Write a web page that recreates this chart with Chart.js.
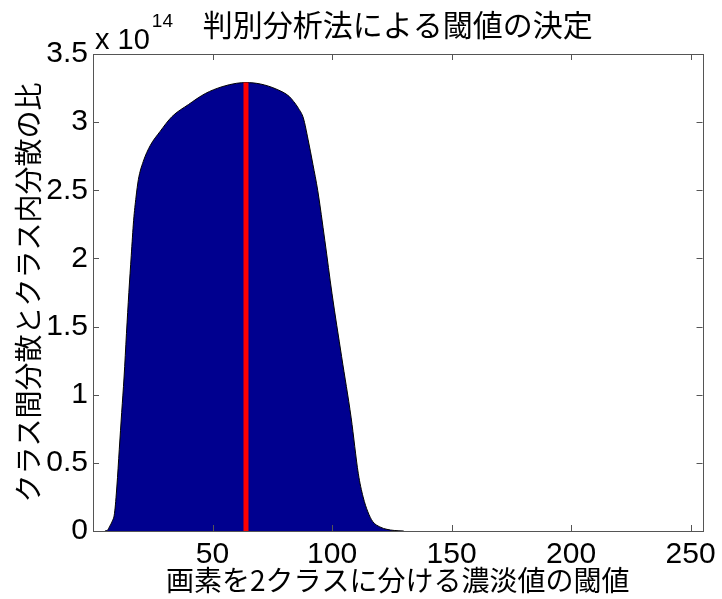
<!DOCTYPE html>
<html>
<head>
<meta charset="utf-8">
<script src="https://cdn.jsdelivr.net/npm/chart.js@4.4.1/dist/chart.umd.min.js"></script>
<style>
  body { margin: 0; background: #fff; }
</style>
</head>
<body>
<canvas id="otsu" width="722" height="599"></canvas>
<script>
    // gray level threshold and the between/within class variance ratio (in units of 10^14)
    const grayLevels = [5, 6, 7, 8, 9, 10, 11, 12, 13, 14, 15, 16, 17, 18, 19, 21, 24, 28, 33, 40, 47, 54, 60, 64,
        70, 77, 82, 84, 86, 88, 90, 92, 94, 97, 100, 104, 108, 111, 113, 115, 117, 120, 123, 126, 130];
    const ratioValues = [0, 0.005, 0.035, 0.07, 0.13, 0.33, 0.6, 0.87, 1.13, 1.45, 1.75, 2.02, 2.28, 2.45, 2.58, 2.71, 2.83, 2.93, 3.04, 3.13, 3.21, 3.26, 3.285, 3.29,
        3.28, 3.24, 3.19, 3.15, 3.10, 3.03, 2.87, 2.69, 2.50, 2.13, 1.74, 1.28, 0.83, 0.42, 0.25, 0.14, 0.07, 0.03, 0.012, 0.004, 0];
    const bestThreshold = [64, 64];
    const bestLine = [0, 3.29];
    const yExponent = '14';
    const xTicks = [50, 100, 150, 200, 250];

    const jpFont = '"Noto Sans CJK JP", "Noto Sans", sans-serif';
    const numFont = '"Liberation Sans Narrow", "Liberation Sans", Arial, sans-serif';

    const matlabAxes = {
        id: 'matlabAxes',
        afterDraw(chart) {
            const { ctx, chartArea: a, scales: { x, y } } = chart;
            ctx.save();
            ctx.strokeStyle = '#555';
            ctx.lineWidth = 1;
            ctx.strokeRect(Math.round(a.left) + 0.5, Math.round(a.top) + 0.5,
                Math.round(a.right - a.left), Math.round(a.bottom - a.top));
            ctx.beginPath();
            x.ticks.forEach(t => {
                const px = Math.round(x.getPixelForValue(t.value)) + 0.5;
                ctx.moveTo(px, a.bottom); ctx.lineTo(px, a.bottom - 6);
                ctx.moveTo(px, a.top); ctx.lineTo(px, a.top + 6);
            });
            y.ticks.forEach(t => {
                const py = Math.round(y.getPixelForValue(t.value)) + 0.5;
                ctx.moveTo(a.left, py); ctx.lineTo(a.left + 6, py);
                ctx.moveTo(a.right, py); ctx.lineTo(a.right - 6, py);
            });
            ctx.stroke();

            // exponent label like MATLAB
            ctx.fillStyle = '#000';
            ctx.textBaseline = 'alphabetic';
            ctx.font = '29px ' + numFont;
            ctx.fillText('x 10', a.left + 2, a.top - 5);
            const w = ctx.measureText('x 10').width;
            ctx.font = '19px ' + numFont;
            ctx.fillText(yExponent, a.left + 4 + w, a.top - 27);
            ctx.restore();
        }
    };

    const ctx = document.getElementById('otsu');
    new Chart(ctx, {
        type: 'line',
        data: {
            datasets: [{
                label: 'ratio',
                data: grayLevels.map((g, i) => ({ x: g, y: ratioValues[i] })),
                fill: 'origin',
                backgroundColor: 'rgb(0, 0, 143)',
                borderColor: '#000',
                borderWidth: 1,
                pointRadius: 0,
                cubicInterpolationMode: 'monotone',
                order: 2
            }, {
                label: 'threshold',
                data: bestThreshold.map((g, i) => ({ x: g, y: bestLine[i] })),
                borderColor: '#ff0000',
                borderWidth: 5,
                pointRadius: 0,
                fill: false,
                order: 1
            }]
        },
        options: {
            responsive: false,
            animation: false,
            layout: { padding: { left: 0, right: 14, top: 0, bottom: 0 } },
            plugins: {
                legend: { display: false },
                tooltip: { enabled: false },
                title: {
                    display: true,
                    fullSize: false,
                    text: '判別分析法による閾値の決定',
                    color: '#000',
                    font: { family: jpFont, size: 30, weight: 'normal', lineHeight: 1.2 },
                    padding: { top: 7, bottom: 11 }
                }
            },
            scales: {
                x: {
                    type: 'linear',
                    min: 0,
                    max: 255,
                    grid: { display: false, drawTicks: false },
                    border: { display: false },
                    afterBuildTicks: s => { s.ticks = xTicks.map(v => ({ value: v })); },
                    afterFit: s => { s.height = 68; },
                    ticks: {
                        color: '#000',
                        padding: 6,
                        maxRotation: 0,
                        font: { family: numFont, size: 30 }
                    },
                    title: {
                        display: true,
                        text: '画素を2クラスに分ける濃淡値の閾値',
                        color: '#000',
                        font: { family: jpFont, size: 28, lineHeight: 1.2 },
                        padding: { top: 0, bottom: 2 }
                    }
                },
                y: {
                    min: 0,
                    max: 3.5,
                    grid: { display: false, drawTicks: false },
                    border: { display: false },
                    afterFit: s => { s.width = 93; },
                    ticks: {
                        stepSize: 0.5,
                        color: '#000',
                        padding: 5,
                        font: { family: numFont, size: 30 },
                        callback: v => String(v)
                    },
                    title: {
                        display: true,
                        text: 'クラス間分散とクラス内分散の比',
                        color: '#000',
                        font: { family: jpFont, size: 28, lineHeight: 1.2 },
                        padding: { top: 12, bottom: 0 }
                    }
                }
            }
        },
        plugins: [matlabAxes]
    });
</script>
</body>
</html>
